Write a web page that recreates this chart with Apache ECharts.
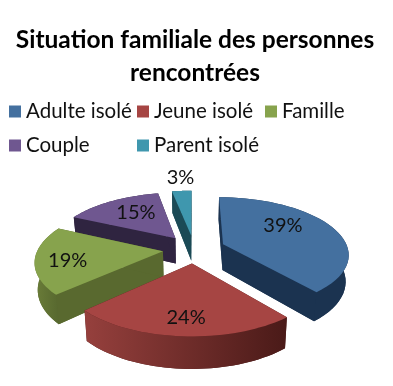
<!DOCTYPE html>
<html>
<head>
<meta charset="utf-8">
<style>html,body{margin:0;padding:0;background:#fff}#main{width:393px;height:386px}</style>
<script src="https://cdn.jsdelivr.net/npm/echarts@6/dist/echarts.min.js"></script>
</head>
<body>
<div id="main"></div>
<script>
var categories = ['Adulte isolé', 'Jeune isolé', 'Famille', 'Couple', 'Parent isolé'];
var values = [39, 24, 19, 15, 3];

// couleurs : dessus, cote, paroi exterieure (gauche -> droite)
var topColors = ['#44709f', '#a64543', '#87a34d', '#6f5790', '#3f97ae'];
var sideColors = ['#1b3350', '#4f1e1c', '#59692f', '#2f2440', '#1b4a56'];
var wallColors = [['#1b3350', '#1b3350'], ['#96403d', '#4a1a18'], ['#6b7d39', '#55662e'], ['#2f2440', '#2f2440'], ['#1b4a56', '#1b4a56']];

// reglages de la vue 3D
var cx = 194, cy = 249, rx = 125, ry = 56;
var explode = 0.25, persp = 0.16, depth = 26, shrink = 0.98;
var labelR = [0.52, 0.8, 0.74, 0.62, 1.42];
var labelShift = [[2, -9], [2, -2], [-1, 3], [2, -2], [2, 2]];
var legendPos = [[9, 101], [137, 101], [265, 101], [9, 135], [137, 135]];
var paintOrder = [2, 4, 3, 1, 5];

var total = values.reduce(function (a, b) { return a + b; }, 0);

function project(X, Y) {
    var s = 1 / (1 + persp * Y);
    return [cx + rx * X * s, cy - ry * Y * s, s];
}
function lower(p) {
    return [cx + (p[0] - cx) * shrink, p[1] + depth * p[2]];
}

function sliceItem(i) {
    return function (params, api) {
        var before = 0;
        for (var k = 0; k < i; k++) before += values[k];
        var a0 = before / total * Math.PI * 2;
        var a1 = (before + api.value(0)) / total * Math.PI * 2;
        var mid = (a0 + a1) / 2;
        var ex = explode * Math.sin(mid), ey = explode * Math.cos(mid);

        var apex = project(ex, ey);
        var arc = [];
        var n = 40;
        for (var j = 0; j <= n; j++) {
            var a = a0 + (a1 - a0) * j / n;
            arc.push(project(ex + Math.sin(a), ey + Math.cos(a)));
        }
        var arcLow = arc.map(lower);
        var apexLow = lower(apex);
        var topPts = [apex].concat(arc);
        var lowPts = [apexLow].concat(arcLow);
        var xy = function (p) { return [p[0], p[1]]; };
        var poly = function (pts, fill) {
            return { type: 'polygon', shape: { points: pts }, style: { fill: fill } };
        };
        var wallFill = new echarts.graphic.LinearGradient(0, 0, 1, 0, [
            { offset: 0, color: wallColors[i][0] },
            { offset: 1, color: wallColors[i][1] }
        ]);
        var last = arc[n], first = arc[0];
        var lab = project(ex + labelR[i] * Math.sin(mid), ey + labelR[i] * Math.cos(mid));

        return {
            type: 'group',
            children: [
                poly(lowPts, sideColors[i]),
                poly([xy(apex), xy(first), arcLow[0], apexLow], sideColors[i]),
                poly([xy(apex), xy(last), arcLow[n], apexLow], sideColors[i]),
                poly(arc.map(xy).concat(arcLow.slice().reverse()), wallFill),
                poly(topPts.map(xy), topColors[i]),
                {
                    type: 'text',
                    style: {
                        text: api.value(0) + '%',
                        x: lab[0] + labelShift[i][0],
                        y: lab[1] + labelShift[i][1],
                        align: 'center',
                        verticalAlign: 'middle',
                        font: '20px Lato',
                        fill: '#111'
                    }
                }
            ]
        };
    };
}

var chart = echarts.init(document.getElementById('main'));
chart.setOption({
    backgroundColor: '#fff',
    animation: false,
    title: {
        text: 'Situation familiale des personnes\nrencontrées',
        left: 190,
        textAlign: 'center',
        top: 19,
        textStyle: { fontFamily: 'Lato', fontWeight: 'bold', fontSize: 24.5, lineHeight: 33, color: '#000' }
    },
    legend: categories.map(function (name, i) {
        return {
            data: [name],
            left: legendPos[i][0],
            top: legendPos[i][1],
            padding: 0,
            icon: 'rect',
            itemWidth: 12,
            itemHeight: 12,
            selectedMode: false,
            textStyle: { fontFamily: 'Lato', fontSize: 20.5, color: '#111' }
        };
    }),
    series: categories.map(function (name, i) {
        return {
            type: 'custom',
            name: name,
            coordinateSystem: 'none',
            z: paintOrder[i],
            silent: true,
            itemStyle: { color: topColors[i] },
            renderItem: sliceItem(i),
            data: [[values[i]]]
        };
    })
});
</script>
</body>
</html>
